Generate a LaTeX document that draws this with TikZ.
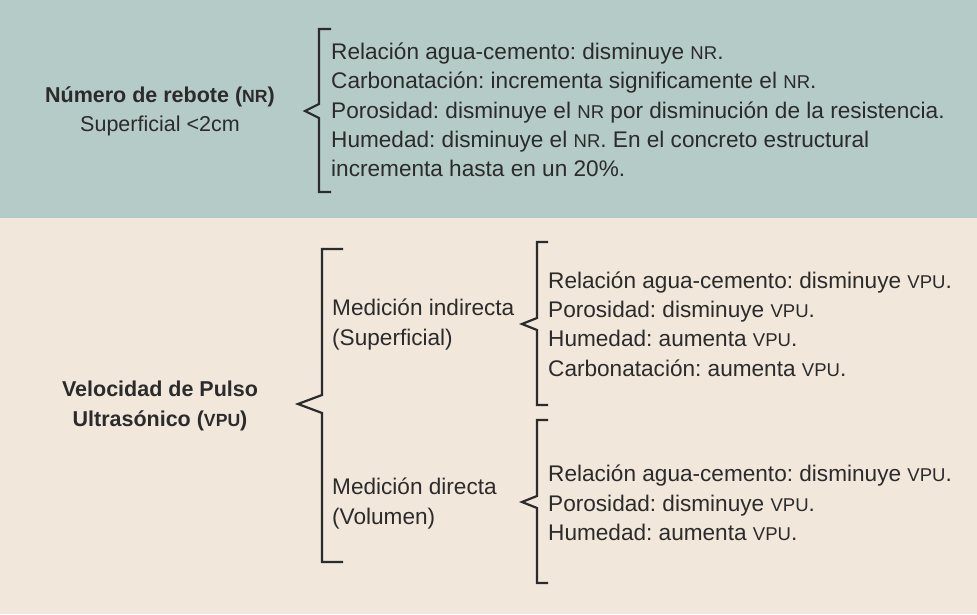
\documentclass[tikz,border=0pt]{standalone}
\usepackage{fontspec}
\setmainfont{Liberation Sans}
\usepackage{xcolor}

\definecolor{fondoNR}{HTML}{B4CBC7}
\definecolor{fondoVPU}{HTML}{F1E7DB}
\definecolor{tinta}{HTML}{2B2B2B}
\newcommand{\sigla}[1]{\scalebox{0.82}{#1}}

\tikzset{
  texto/.style={text=tinta, align=left, anchor=west, inner sep=0pt,
    font=\fontsize{22.6}{29.3}\selectfont\frenchspacing},
  titulo/.style={text=tinta, align=center, inner sep=0pt,
    font=\fontsize{21.5}{29.3}\selectfont\frenchspacing},
  llave/.style={draw=tinta, line width=2.2pt, line join=miter}
}

\begin{document}
\begin{tikzpicture}[x=1pt,y=-1pt]
        % fondos
        \fill[fondoNR] (0,0) rectangle (977,218);
        \fill[fondoVPU] (0,218) rectangle (977,614);
        \useasboundingbox (0,0) rectangle (977,614);

        % numero de rebote
        \node[titulo] (nr) at (160,111) {\textbf{Número de rebote (\sigla{NR})}\\Superficial <2cm};
        \node[texto] (nrlista) at (331,110) {Relación agua-cemento: disminuye \sigla{NR}.\\
            Carbonatación: incrementa significamente el \sigla{NR}.\\
            Porosidad: disminuye el \sigla{NR} por disminución de la resistencia.\\
            Humedad: disminuye el \sigla{NR}. En el concreto estructural\\
            incrementa hasta en un 20\%.};
        \draw[llave] (331,29) -- (319,29) -- (319,104) -- (305,111) -- (319,118) -- (319,192) -- (331,192);

        % velocidad de pulso
        \node[titulo] (vpu) at (160,406) {\textbf{Velocidad de Pulso}\\\textbf{Ultrasónico (\sigla{VPU})}};
        \node[texto] (ind) at (332,324.5) {Medición indirecta\\(Superficial)};
        \node[texto] (dir) at (332,503.5) {Medición directa\\(Volumen)};
        \draw[llave] (343,249) -- (322,249) -- (322,395) -- (298,404) -- (322,413) -- (322,562) -- (343,562);

        \node[texto] (indlista) at (548,324) {Relación agua-cemento: disminuye \sigla{VPU}.\\
            Porosidad: disminuye \sigla{VPU}.\\
            Humedad: aumenta \sigla{VPU}.\\
            Carbonatación: aumenta \sigla{VPU}.};
        \draw[llave] (548,242) -- (537,242) -- (537,318) -- (522,324) -- (537,330) -- (537,405) -- (548,405);

        \node[texto] (dirlista) at (548,503) {Relación agua-cemento: disminuye \sigla{VPU}.\\
            Porosidad: disminuye \sigla{VPU}.\\
            Humedad: aumenta \sigla{VPU}.};
        \draw[llave] (548,420) -- (537,420) -- (537,496) -- (522,502) -- (537,508) -- (537,583) -- (548,583);
    \end{tikzpicture}
\end{document}
